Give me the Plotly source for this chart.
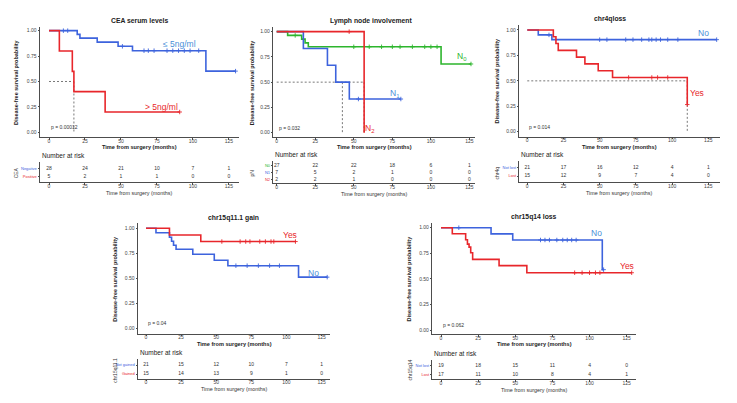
import numpy as np
import plotly.graph_objects as go

# The page body has an 8px margin; the figure is sized to fit inside the window.
WIN_W, WIN_H = 737, 403
OFF = 8
W, H = WIN_W - 2 * OFF, WIN_H - 2 * OFF
FONT = "Liberation Sans, Arial, sans-serif"
BLUE = "#3d63dd"
LBLUE = "#4a8fd8"
RED = "#e8262b"
GREEN = "#2db52d"
AXC = "#4d4d4d"
TXT = "#333333"

ticks_months = [0, 25, 50, 75, 100, 125]
prob_ticks = [0, 0.25, 0.5, 0.75, 1.0]
prob_ticktext = ["0.00", "0.25", "0.50", "0.75", "1.00"]

# ---------- Panel 1: CEA serum levels ----------
cea_neg_t = [0, 19.6, 21.5, 33.5, 48, 58, 109, 129.6]
cea_neg_s = [1, 0.964, 0.927, 0.887, 0.846, 0.803, 0.602, 0.602]
cea_neg_cens = [10, 13, 51, 66, 69, 73, 82, 86, 90, 94, 98, 104, 129.6]
cea_pos_t = [0, 7.2, 16.2, 17.3, 39, 90.8]
cea_pos_s = [1, 0.8, 0.6, 0.4, 0.2, 0.2]
cea_pos_cens = [90.8]
cea_risk_neg = [28, 24, 21, 10, 7, 1]
cea_risk_pos = [5, 2, 1, 1, 0, 0]
cea_median = [17.3]

# ---------- Panel 2: Lymph node involvement ----------
n0_t = [0, 7.1, 16.2, 18.4, 20.5, 106.6, 126]
n0_s = [1, 0.963, 0.926, 0.889, 0.85, 0.68, 0.68]
n0_cens = [12, 50, 60, 68, 75, 80, 88, 96, 100, 104, 126]
n1_t = [0, 17.3, 32.9, 38.3, 47.1, 80.5]
n1_s = [1, 0.833, 0.667, 0.5, 0.333, 0.333]
n1_cens = [53, 80.5]
n2_t = [0, 56.7]
n2_s = [1, 0]
n2_cens = [47]
ln_risk_n0 = [27, 22, 22, 18, 6, 1]
ln_risk_n1 = [7, 5, 2, 1, 0, 0]
ln_risk_n2 = [2, 2, 1, 0, 0, 0]
ln_median = [42.6, 56.7]

# ---------- Panel 3: chr4qloss ----------
c4_no_t = [0, 7.6, 17, 130.8]
c4_no_s = [1, 0.952, 0.905, 0.905]
c4_no_cens = [15, 50, 55, 68, 73, 79, 84, 86, 89, 92, 97, 104, 130.8]
c4_yes_t = [0, 18, 19.8, 21.4, 34, 39.8, 49, 58.9, 110.5]
c4_yes_s = [1, 0.933, 0.867, 0.8, 0.733, 0.667, 0.6, 0.533, 0.267]
c4_yes_cens = [70, 86, 90, 97, 110.5]
c4_risk_no = [21, 17, 16, 12, 4, 1]
c4_risk_yes = [15, 12, 9, 7, 4, 0]
c4_median = [110.5]

# ---------- Panel 4: chr15q11.1 gain ----------
g_yes_t = [0, 16.7, 39, 106.4]
g_yes_s = [1, 0.933, 0.867, 0.867]
g_yes_cens = [54, 67, 71, 74, 81, 85, 89, 91, 106.4]
g_no_t = [0, 7.1, 16.7, 18.2, 19.6, 21.4, 33.3, 48.6, 58.3, 108.6, 129]
g_no_s = [1, 0.955, 0.91, 0.87, 0.83, 0.79, 0.74, 0.68, 0.625, 0.51, 0.51]
g_no_cens = [64, 72, 80, 88, 95, 129]
g_risk_no = [21, 15, 12, 10, 7, 1]
g_risk_yes = [15, 14, 13, 9, 1, 0]
g_median = []

# ---------- Panel 5: chr15q14 loss ----------
l_no_t = [0, 33.7, 48.3, 108.6, 109.5]
l_no_s = [1, 0.94, 0.88, 0.59, 0.59]
l_no_cens = [12, 67, 70, 73, 78, 82, 85, 88, 91, 109.5]
l_yes_t = [0, 7.6, 16.6, 17.8, 18.9, 20, 21.3, 39.1, 57.8, 128.4]
l_yes_s = [1, 0.941, 0.882, 0.84, 0.81, 0.755, 0.69, 0.629, 0.56, 0.56]
l_yes_cens = [90, 95, 100, 104, 107, 128.4]
l_risk_no = [19, 18, 15, 11, 4, 0]
l_risk_yes = [17, 11, 10, 8, 4, 1]
l_median = []

panels = [
    dict(title="CEA serum levels", p="p = 0.00012", group="CEA",
         curves=[(cea_neg_t, cea_neg_s, cea_neg_cens, BLUE), (cea_pos_t, cea_pos_s, cea_pos_cens, RED)],
         labels=[("≤ 5ng/ml", LBLUE), ("> 5ng/ml", RED)],
         risk=[cea_risk_neg, cea_risk_pos],
         rowlab=[("Negative", BLUE), ("Positive", RED)], median=cea_median),
    dict(title="Lymph node involvement", p="p = 0.032", group="pN",
         curves=[(n0_t, n0_s, n0_cens, GREEN), (n1_t, n1_s, n1_cens, BLUE), (n2_t, n2_s, n2_cens, RED)],
         labels=[("N<sub>0</sub>", GREEN), ("N<sub>1</sub>", LBLUE), ("N<sub>2</sub>", RED)],
         risk=[ln_risk_n0, ln_risk_n1, ln_risk_n2],
         rowlab=[("N0", GREEN), ("N1", BLUE), ("N2", RED)], median=ln_median),
    dict(title="chr4qloss", p="p = 0.014", group="chr4q",
         curves=[(c4_no_t, c4_no_s, c4_no_cens, BLUE), (c4_yes_t, c4_yes_s, c4_yes_cens, RED)],
         labels=[("No", LBLUE), ("Yes", RED)],
         risk=[c4_risk_no, c4_risk_yes],
         rowlab=[("Not lost", BLUE), ("Lost", RED)], median=c4_median),
    dict(title="chr15q11.1 gain", p="p = 0.04", group="chr15q11.1",
         curves=[(g_no_t, g_no_s, g_no_cens, BLUE), (g_yes_t, g_yes_s, g_yes_cens, RED)],
         labels=[("No", LBLUE), ("Yes", RED)],
         risk=[g_risk_no, g_risk_yes],
         rowlab=[("Not gained", BLUE), ("Gained", RED)], median=g_median),
    dict(title="chr15q14 loss", p="p = 0.062", group="chr15q14",
         curves=[(l_no_t, l_no_s, l_no_cens, BLUE), (l_yes_t, l_yes_s, l_yes_cens, RED)],
         labels=[("No", LBLUE), ("Yes", RED)],
         risk=[l_risk_no, l_risk_yes],
         rowlab=[("Not lost", BLUE), ("Lost", RED)], median=l_median),
]

# layout geometry (window pixels) -- positions only
geom = [
    dict(xpx=(40, 239), xr=(-6.25, 132), ypx=(26.6, 137.4), yr=(-0.05, 1.04),
         tpx=(162.4, 182.3), tyr=(0.33, 2.7), title=(139, 20), ylab_x=16,
         label_pos=[(91, 0.87), (78, 0.25)]),
    dict(xpx=(273.3, 475), xr=(-2.2, 128.6), ypx=(26.7, 137.3), yr=(-0.046, 1.049),
         tpx=(161.3, 183.3), tyr=(0.4, 3.7), title=(371, 20.7), ylab_x=252.3,
         label_pos=[(120, 0.75), (77, 0.39), (60, 0.04)]),
    dict(xpx=(519.3, 720), xr=(-5.5, 133.1), ypx=(25, 136.7), yr=(-0.049, 1.049),
         tpx=(161.2, 182.3), tyr=(0.276, 2.7), title=(610, 19.3), ylab_x=496.7,
         label_pos=[(122, 0.97), (117.5, 0.38)]),
    dict(xpx=(138, 330), xr=(-5.7, 131), ypx=(223.3, 334), yr=(-0.06, 1.05),
         tpx=(358.7, 379), tyr=(0.444, 2.7), title=(233.3, 218.3), ylab_x=115,
         label_pos=[(119, 0.55), (102.5, 0.93)]),
    dict(xpx=(432.3, 636), xr=(-5.86, 131.3), ypx=(222.6, 334.3), yr=(-0.042, 1.05),
         tpx=(359.7, 379.3), tyr=(0.42, 2.7), title=(534, 217.3), ylab_x=409,
         label_pos=[(104.5, 0.945), (125, 0.626)]),
]


def px2x(px):
    return (px - OFF) / W


def px2y(py):
    return 1 - (py - OFF) / H


def sfx(n):
    return "" if n == 1 else str(n)


fig = go.Figure()
annotations = []


def ann(text, px, py, size, color=TXT, bold=False, angle=0, xanchor="center", yanchor="middle"):
    if bold:
        text = "<b>" + text + "</b>"
    annotations.append(dict(text=text, x=px2x(px), y=px2y(py), xref="paper", yref="paper",
                            showarrow=False, textangle=angle, xanchor=xanchor, yanchor=yanchor,
                            font=dict(family=FONT, size=size, color=color)))


DASH = "2px,2px"
layout_axes = {}
for k, (pn, g) in enumerate(zip(panels, geom)):
    pa = 2 * k + 1
    ta = 2 * k + 2
    xa, ya = "x" + sfx(pa), "y" + sfx(pa)
    txa, tya = "x" + sfx(ta), "y" + sfx(ta)

    # median dashed lines
    if pn["median"]:
        mmax = max(pn["median"])
        fig.add_trace(go.Scatter(x=[0, mmax], y=[0.5, 0.5], mode="lines", xaxis=xa, yaxis=ya,
                                 line=dict(color="#555555", width=0.8, dash=DASH), hoverinfo="skip"))
        for m in pn["median"]:
            fig.add_trace(go.Scatter(x=[m, m], y=[0.5, 0], mode="lines", xaxis=xa, yaxis=ya,
                                     line=dict(color="#555555", width=0.8, dash=DASH), hoverinfo="skip"))

    # KM curves
    for t, s, cens, col in pn["curves"]:
        fig.add_trace(go.Scatter(x=t, y=s, mode="lines", line_shape="hv", xaxis=xa, yaxis=ya,
                                 line=dict(color=col, width=1.6), hoverinfo="skip"))
        ta_arr = np.array(t, dtype=float)
        sa_arr = np.array(s, dtype=float)
        idx = np.searchsorted(ta_arr, np.array(cens, dtype=float), side="right") - 1
        fig.add_trace(go.Scatter(x=cens, y=sa_arr[idx], mode="markers", xaxis=xa, yaxis=ya,
                                 marker=dict(symbol="cross-thin", size=3.2, line=dict(color=col, width=0.9)),
                                 hoverinfo="skip"))

    # curve labels
    for (lab, col), (lx, ly) in zip(pn["labels"], g["label_pos"]):
        annotations.append(dict(text=lab, x=lx, y=ly, xref=xa, yref=ya, showarrow=False,
                                 font=dict(family=FONT, size=8.5, color=col)))
    # p-value
    annotations.append(dict(text=pn["p"], x=0, y=0.05, xref=xa, yref=ya, showarrow=False,
                             xanchor="left", font=dict(family=FONT, size=5, color=TXT)))

    # risk table numbers
    nrows = len(pn["risk"])
    for i, row in enumerate(pn["risk"]):
        fig.add_trace(go.Scatter(x=ticks_months, y=[nrows - i] * len(row), mode="text",
                                 text=[str(v) for v in row], xaxis=txa, yaxis=tya,
                                 textfont=dict(family=FONT, size=5, color=TXT), hoverinfo="skip"))

    xdom = [px2x(g["xpx"][0]), px2x(g["xpx"][1])]
    common_x = dict(domain=xdom, range=list(g["xr"]), tickvals=ticks_months,
                    showline=True, linecolor=AXC, linewidth=0.8, ticks="outside", ticklen=1.5,
                    tickcolor=AXC, tickwidth=0.6, showgrid=False, zeroline=False,
                    ticklabelstandoff=-3,
                    tickfont=dict(family=FONT, size=5, color="#444444"), fixedrange=True)
    layout_axes["xaxis" + sfx(pa)] = dict(common_x, anchor=ya)
    layout_axes["yaxis" + sfx(pa)] = dict(domain=[px2y(g["ypx"][1]), px2y(g["ypx"][0])], range=list(g["yr"]),
                                          anchor=xa, tickvals=prob_ticks, ticktext=prob_ticktext,
                                          showline=True, linecolor=AXC, linewidth=0.8, ticks="outside",
                                          ticklen=1.5, tickcolor=AXC, tickwidth=0.6, showgrid=False,
                                          zeroline=False, tickfont=dict(family=FONT, size=5, color="#444444"))
    layout_axes["xaxis" + sfx(ta)] = dict(common_x, anchor=tya)
    layout_axes["yaxis" + sfx(ta)] = dict(domain=[px2y(g["tpx"][1]), px2y(g["tpx"][0])], range=list(g["tyr"]),
                                          anchor=txa, tickvals=[nrows - i for i in range(nrows)],
                                          ticktext=["<span style='color:%s'>%s</span>" % (c, l) for l, c in pn["rowlab"]],
                                          showline=True, linecolor=AXC, linewidth=0.8, ticks="outside",
                                          ticklen=1.5, tickcolor=AXC, tickwidth=0.6, showgrid=False,
                                          zeroline=False, tickfont=dict(family=FONT, size=4))

    # text: titles, axis titles
    xmid = (g["xpx"][0] + g["xpx"][1]) / 2
    ann(pn["title"], g["title"][0], g["title"][1], 6.8, color="#222222", bold=True)
    ann("Time from surgery (months)", xmid, g["ypx"][1] + 10, 5.6, color="#222222", bold=True)
    ann("Disease-free survival probability", g["ylab_x"], (g["ypx"][0] + g["ypx"][1]) / 2, 5.5,
        color="#222222", bold=True, angle=-90)
    ann("Number at risk", g["xpx"][0], g["tpx"][0] - 6.5, 6.5, color="#222222", xanchor="left")
    ann("Time from surgery (months)", xmid, g["tpx"][1] + 10.4, 5.4, color="#333333")
    ann(pn["group"], g["ylab_x"], (g["tpx"][0] + g["tpx"][1]) / 2 + 1, 5, color="#333333", angle=-90)

fig.update_layout(width=W, height=H, margin=dict(l=0, r=0, t=0, b=0),
                  paper_bgcolor="white", plot_bgcolor="white", showlegend=False,
                  annotations=annotations, hovermode=False, **layout_axes)

fig.write_html("out.html", config={"displayModeBar": False})
